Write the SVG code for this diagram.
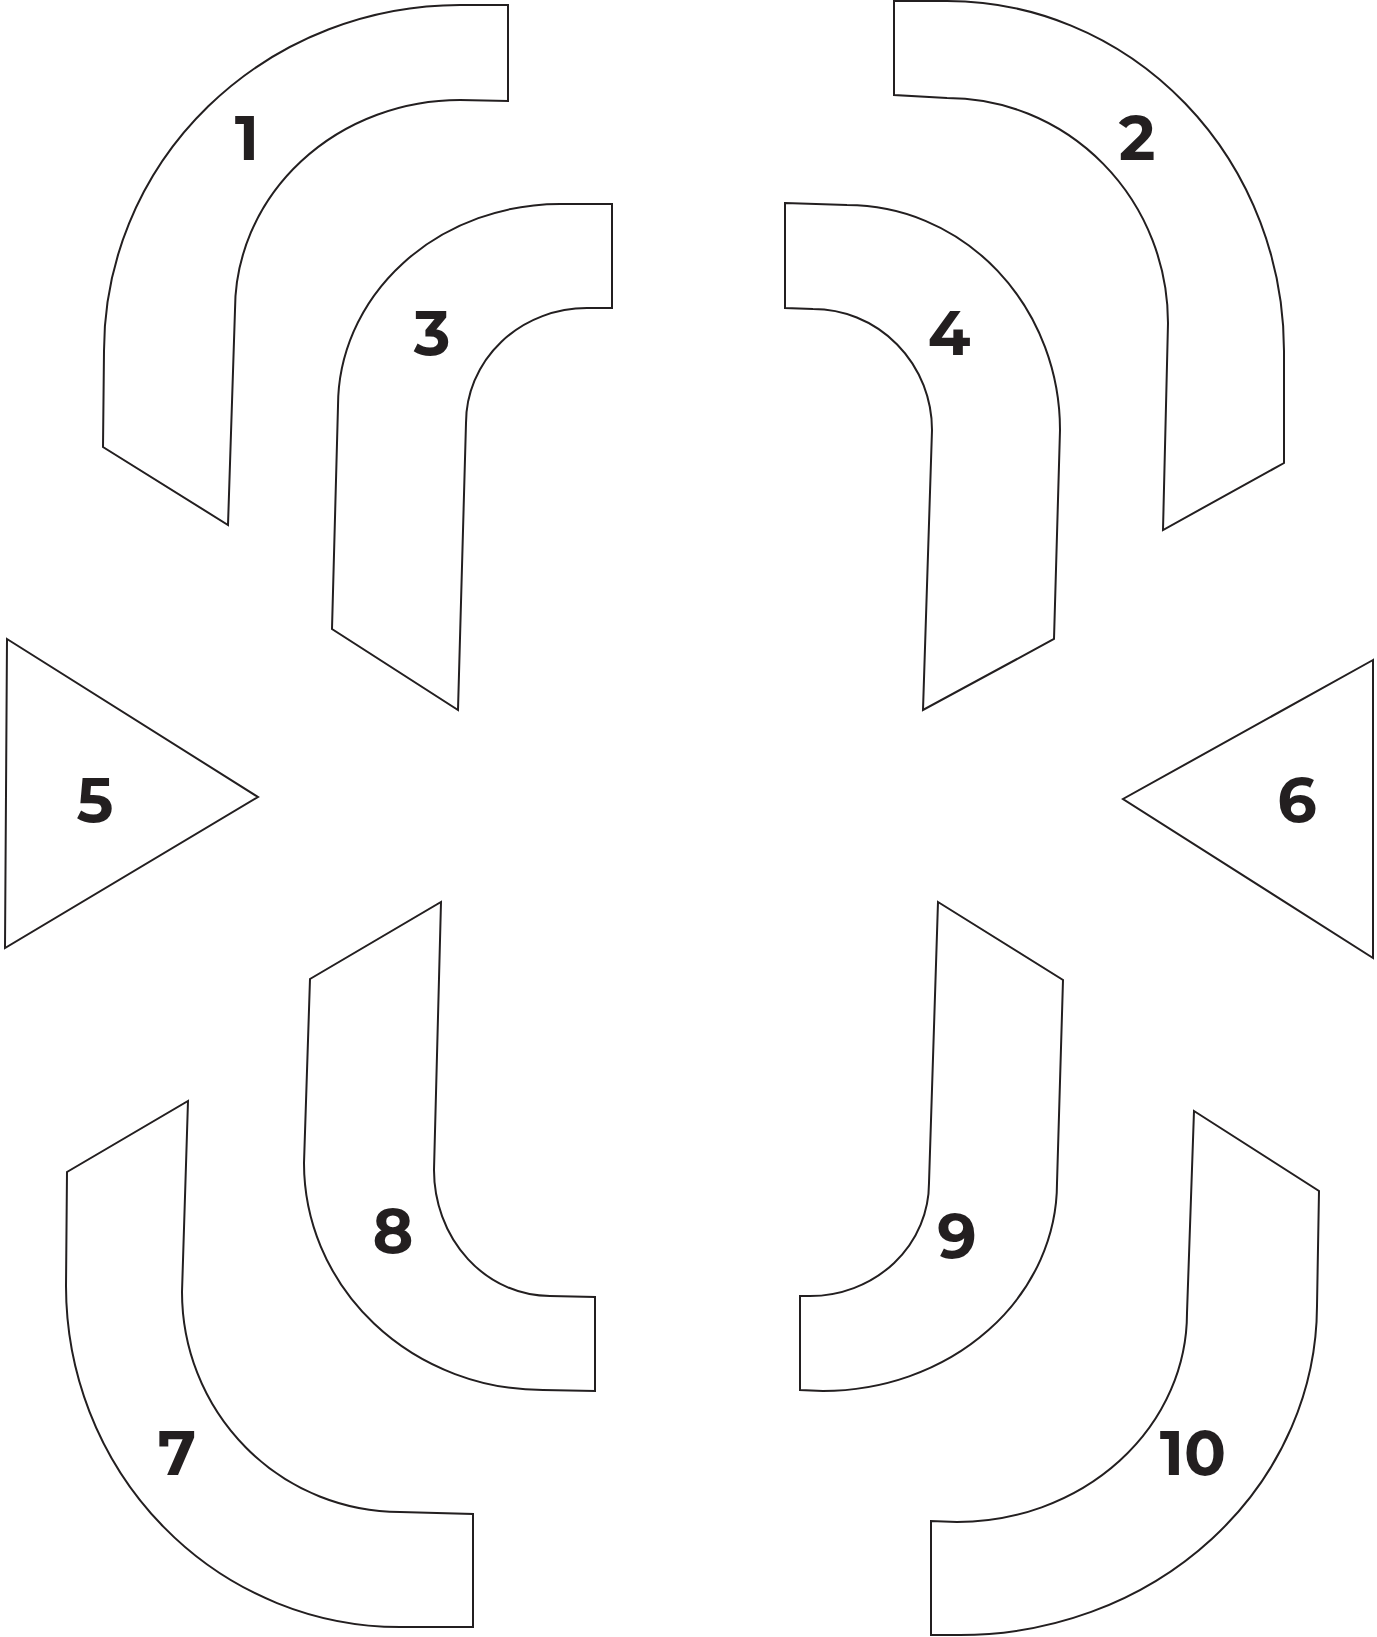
<svg xmlns="http://www.w3.org/2000/svg" width="1377" height="1637" viewBox="0 0 1377 1637">
<style>
.s{fill:#fff;stroke:#231f20;stroke-width:2;stroke-linejoin:miter}
.l{font-family:"Montserrat","Liberation Sans",Arial,sans-serif;font-weight:bold;font-size:62px;fill:#231f20;text-anchor:middle}
</style>
<rect width="1377" height="1637" fill="#fff"/>
<g id="connectors"></g>
<g id="n1"><path class="s" d="M460,5 L508,5 L508,101 L460,100 A225,210 0 0 0 235,310 L228,525 L103,447 L104,351 A356,346 0 0 1 460,5 Z"/><text class="l" x="247" y="160">1</text></g>
<g id="n2"><path class="s" d="M894,1 L947,1 A337,350 0 0 1 1284,351 L1284,463 L1163,530 L1168,323 A221,225 0 0 0 947,98 L894,95 Z"/><text class="l" x="1137" y="160">2</text></g>
<g id="n3"><path class="s" d="M560,204 L612,204 L612,308 L587,308 A121,115 0 0 0 466,423 L458,710 L332,629 L338,406 A222,202 0 0 1 560,204 Z"/><text class="l" x="432" y="355">3</text></g>
<g id="n4"><path class="s" d="M785,203 L847,205 A213,225 0 0 1 1060,430 L1054,639 L923,710 L932,430 A119,121 0 0 0 813,309 L785,308 Z"/><text class="l" x="949" y="355">4</text></g>
<g id="n5"><path class="s" d="M7,639 L258,797 L5,948 Z"/><text class="l" x="95" y="822">5</text></g>
<g id="n6"><path class="s" d="M1373,660 L1123,799 L1373,958 Z"/><text class="l" x="1297" y="822">6</text></g>
<g id="n7"><path class="s" d="M188,1101 L182,1292 A218,220 0 0 0 400,1512 L473,1514 L473,1627 L400,1627 A334,341 0 0 1 66,1286 L67,1172 Z"/><text class="l" x="177" y="1475">7</text></g>
<g id="n8"><path class="s" d="M441,902 L434,1170 A116,126 0 0 0 550,1296 L595,1297 L595,1391 L543,1390 A239,227 0 0 1 304,1163 L310,979 Z"/><text class="l" x="393" y="1253">8</text></g>
<g id="n9"><path class="s" d="M938,902 L1063,980 L1057,1183 A234,208 0 0 1 823,1391 L800,1390 L800,1296 L810,1296 A119,113 0 0 0 929,1183 Z"/><text class="l" x="957" y="1258">9</text></g>
<g id="n10"><path class="s" d="M1194,1111 L1319,1191 L1317,1306 A357,330 0 0 1 960,1635 L931,1635 L931,1521 L957,1522 A230,209 0 0 0 1187,1313 Z"/><text class="l" x="1193" y="1475">10</text></g>
</svg>
